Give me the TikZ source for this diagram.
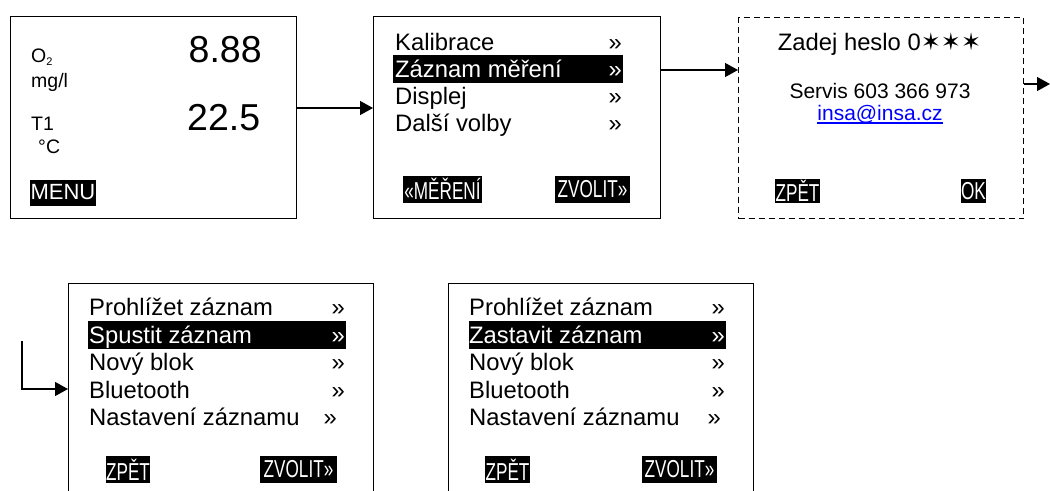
\documentclass[tikz,border=0pt]{standalone}
\usepackage{fontspec}
\setmainfont{Liberation Sans}
\newfontfamily\narrowf[FakeStretch=0.7]{Liberation Sans}
\newfontfamily\symf{DejaVu Sans}
\usetikzlibrary{arrows.meta}
\definecolor{linkblue}{RGB}{0,0,255}
\tikzset{
  screen/.style={draw=black, line width=1.3pt, rectangle, inner sep=0pt, anchor=north west},
  dscreen/.style={screen, dash pattern=on 6pt off 4pt},
  menu/.style={anchor=base west, inner sep=0pt, font=\fontsize{23.8}{28}\selectfont},
  menuw/.style={menu, text=white},
  hl/.style={fill=black, inner sep=0pt, anchor=north west, minimum height=28pt},
  btn/.style={fill=black, text=white, inner sep=0pt, minimum height=27pt, font=\narrowf\fontsize{24.5}{24.5}\selectfont},
  small/.style={anchor=base west, inner sep=0pt, font=\fontsize{19.5}{22}\selectfont},
  big/.style={anchor=base west, inner sep=0pt, font=\fontsize{37.5}{40}\selectfont},
  ctext/.style={anchor=base, inner sep=0pt, font=\fontsize{21}{24}\selectfont},
  arr/.style={line width=1.3pt, -{Triangle[length=13pt,width=14pt]}},
}
\begin{document}
\begin{tikzpicture}[x=1pt,y=-1pt]
\useasboundingbox (0,0) rectangle (1051,490);
\clip (0,0) rectangle (1051,490);

% ---------- screen 1
\node[screen, minimum width=286pt, minimum height=202pt] (s1) at (10,16) {};
\node[small] (o2) at (31,62) {O\raisebox{-3pt}{\fontsize{11}{11}\selectfont 2}};
\node[small] (mgl) at (31,87) {mg/l};
\node[small] (t1) at (31,130) {T1};
\node[small] (degc) at (38,153) {°C};
\node[big] (v1) at (188.5,62) {8.88};
\node[big] (v2) at (187,130) {22.5};
\node[fill=black, text=white, inner sep=0pt, minimum width=66pt, minimum height=26pt, font=\fontsize{22}{22}\selectfont] (menu) at (63,192.5) {MENU};

% ---------- screen 2
\node[screen, minimum width=287pt, minimum height=202pt] (s2) at (373,16) {};
\node[hl, minimum width=230pt] (s2hl) at (393,55) {};
\node[menu] (s2a) at (395,50) {Kalibrace};
\node[menu] (s2ar) at (608.5,50) {»};
\node[menuw] (s2b) at (395,77.3) {Záznam měření};
\node[menuw] (s2br) at (608.5,77.3) {»};
\node[menu] (s2c) at (395,104.5) {Displej};
\node[menu] (s2cr) at (608.5,104.5) {»};
\node[menu] (s2d) at (395,131.7) {Další volby};
\node[menu] (s2dr) at (608.5,131.7) {»};
\node[btn, minimum width=79pt] (s2l) at (442.5,189) {«MĚŘENÍ};
\node[btn, minimum width=75pt] (s2r) at (592.5,189) {ZVOLIT»};

% ---------- screen 3
\node[dscreen, minimum width=285pt, minimum height=201pt] (s3) at (738,17) {};
\node[anchor=base, inner sep=0pt, font=\fontsize{23.8}{28}\selectfont] (pw) at (879.5,50) {Zadej heslo 0{\symf\fontsize{24}{24}\selectfont ✶✶✶}};
\node[ctext] (serv) at (880,98) {Servis 603 366 973};
\node[ctext, text=linkblue] (mail) at (880,120) {insa@insa.cz};
\draw[linkblue, line width=1.1pt] ([yshift=-3pt]mail.base west) -- ([yshift=-3pt]mail.base east);
\node[btn, minimum width=45pt, minimum height=24pt] (s3l) at (797.5,191) {ZPĚT};
\node[btn, minimum width=25pt, minimum height=24pt] (s3r) at (973.5,191) {OK};

% ---------- screen 4
\node[screen, minimum width=305pt, minimum height=240pt] (s4) at (68,283) {};
\node[hl, minimum width=258pt] (s4hl) at (88,321) {};
\node[menu] (s4a) at (89,315) {Prohlížet záznam};
\node[menu] (s4ar) at (331.5,315) {»};
\node[menuw] (s4b) at (89,343) {Spustit záznam};
\node[menuw] (s4br) at (331.5,343) {»};
\node[menu] (s4c) at (89,370.7) {Nový blok};
\node[menu] (s4cr) at (331.5,370.7) {»};
\node[menu] (s4d) at (89,398) {Bluetooth};
\node[menu] (s4dr) at (331.5,398) {»};
\node[menu] (s4e) at (89,425.7) {Nastavení záznamu};
\node[menu] (s4er) at (323.5,425.7) {»};
\node[btn, minimum width=44pt] (s4l) at (128,469.5) {ZPĚT};
\node[btn, minimum width=77pt] (s4r) at (298.5,469.5) {ZVOLIT»};

% ---------- screen 5
\node[screen, minimum width=305pt, minimum height=240pt] (s5) at (448,283) {};
\node[hl, minimum width=257pt] (s5hl) at (469,321) {};
\node[menu] (s5a) at (469,315) {Prohlížet záznam};
\node[menu] (s5ar) at (711.5,315) {»};
\node[menuw] (s5b) at (469,343) {Zastavit záznam};
\node[menuw] (s5br) at (711.5,343) {»};
\node[menu] (s5c) at (469,370.7) {Nový blok};
\node[menu] (s5cr) at (711.5,370.7) {»};
\node[menu] (s5d) at (469,398) {Bluetooth};
\node[menu] (s5dr) at (711.5,398) {»};
\node[menu] (s5e) at (469,425.7) {Nastavení záznamu};
\node[menu] (s5er) at (707.5,425.7) {»};
\node[btn, minimum width=45pt] (s5l) at (507.5,469.5) {ZPĚT};
\node[btn, minimum width=75pt] (s5r) at (679.5,469.5) {ZVOLIT»};

% ---------- connectors
\coordinate (y1) at (0,108);
\draw[arr] (s1.east |- y1) -- (s2.west |- y1);
\coordinate (y2) at (0,70);
\draw[arr] (s2.east |- y2) -- (s3.west |- y2);
\coordinate (y3) at (0,84);
\coordinate (out3) at (1050,84);
\draw[arr] (s3.east |- y3) -- (out3);
\coordinate (in4) at (22,341);
\coordinate (y4) at (0,389);
\draw[arr] (in4) |- (s4.west |- y4);
\end{tikzpicture}
\end{document}
